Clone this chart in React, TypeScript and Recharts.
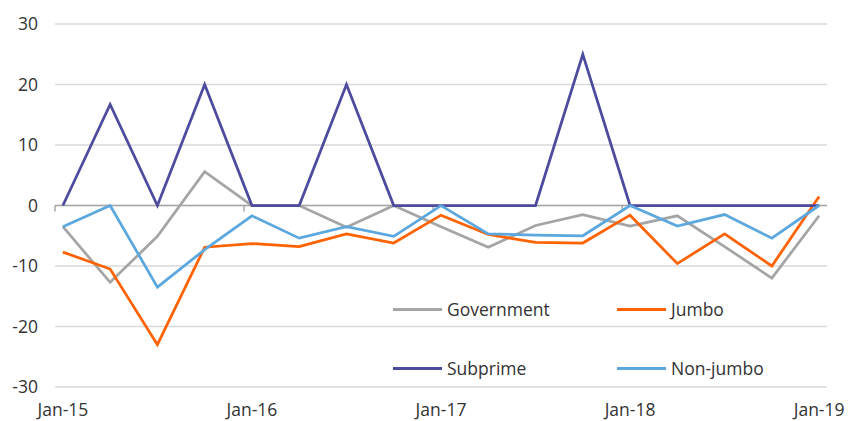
import React from 'react';
import { LineChart, Line, XAxis, YAxis, CartesianGrid, ReferenceLine, Legend } from 'recharts';

// Quarterly observations, Jan-15 .. Jan-19
const quarters = ['Jan-15','Apr-15','Jul-15','Oct-15','Jan-16','Apr-16','Jul-16','Oct-16','Jan-17','Apr-17','Jul-17','Oct-17','Jan-18','Apr-18','Jul-18','Oct-18','Jan-19'];
const government = [-3.5, -12.7, -5.1, 5.6, 0, 0, -3.6, 0, -3.5, -6.9, -3.3, -1.5, -3.4, -1.7, -6.8, -12.0, -1.7];
const jumbo = [-7.7, -10.5, -23.0, -6.9, -6.3, -6.8, -4.7, -6.2, -1.6, -4.8, -6.1, -6.2, -1.6, -9.6, -4.7, -10.0, 1.5];
const subprime = [0, 16.7, 0, 20, 0, 0, 20, 0, 0, 0, 0, 25, 0, 0, 0, 0, 0];
const nonJumbo = [-3.5, 0, -13.5, -7.3, -1.7, -5.4, -3.5, -5.1, 0, -4.7, -4.9, -5.0, 0, -3.4, -1.5, -5.4, 0];

const xTickLabels = ['Jan-15', 'Jan-16', 'Jan-17', 'Jan-18', 'Jan-19'];
const yTicks = [-30, -20, -10, 0, 10, 20, 30];

const COLORS = {
  government: '#A5A5A5',
  jumbo: '#FF6200',
  subprime: '#4D4B9E',
  nonJumbo: '#5CA8DE',
};

// month index (centre of month) for each quarterly point
const data = quarters.map((q, i) => ({
  month: i * 3 + 0.5,
  label: q,
  government: government[i],
  jumbo: jumbo[i],
  subprime: subprime[i],
  nonJumbo: nonJumbo[i],
}));

const xTicks = xTickLabels.map((_, i) => i * 12 + 0.5);
const boundaryTicks = xTickLabels.map((_, i) => i * 12);

const FONT = '"Open Sans", sans-serif';
const TEXT = '#333333';
const FS = 17.5;

const legendItems = [
  { name: 'Government', color: COLORS.government, left: 393, top: 309 },
  { name: 'Jumbo', color: COLORS.jumbo, left: 617, top: 309 },
  { name: 'Subprime', color: COLORS.subprime, left: 393, top: 368 },
  { name: 'Non-jumbo', color: COLORS.nonJumbo, left: 617, top: 368 },
];

const LegendContent = () => (
  <div style={{ position: 'relative', width: 0, height: 0 }}>
    {legendItems.map((it) => (
      <div
        key={it.name}
        style={{
          position: 'absolute',
          left: it.left,
          top: it.top - 12,
          height: 24,
          display: 'flex',
          alignItems: 'center',
          whiteSpace: 'nowrap',
          fontFamily: FONT,
          fontSize: FS,
          color: TEXT,
        }}
      >
        <span style={{ display: 'inline-block', width: 49, height: 3, background: it.color, marginRight: 5 }} />
        <span>{it.name}</span>
      </div>
    ))}
  </div>
);

export default function App() {
  return (
    <div style={{ position: 'absolute', left: 0, top: 0, width: 848, height: 421, background: '#fff' }}>
      <LineChart
        width={848}
        height={421}
        data={data}
        margin={{ top: 24, right: 21, bottom: 4, left: 0 }}
      >
        <CartesianGrid horizontal vertical={false} stroke="#D9D9D9" strokeWidth={1.5} />
        <XAxis
          dataKey="month"
          type="number"
          domain={[0, 49]}
          ticks={xTicks}
          tickFormatter={(v: number) => xTickLabels[Math.round((v - 0.5) / 12)]}
          axisLine={false}
          tickLine={false}
          tickMargin={11}
          height={30}
          tick={{ fill: TEXT, fontSize: FS, fontFamily: FONT }}
          interval={0}
        />
        <YAxis
          type="number"
          domain={[-30, 30]}
          ticks={yTicks}
          width={55}
          axisLine={false}
          tickLine={false}
          tickMargin={11}
          tick={{ fill: TEXT, fontSize: FS, fontFamily: FONT }}
        />
        <ReferenceLine y={0} stroke="#A6A6A6" strokeWidth={1.5} />
        {boundaryTicks.map((m) => (
          <ReferenceLine
            key={m}
            segment={[{ x: m, y: 0 }, { x: m, y: -1 }]}
            stroke="#A6A6A6"
            strokeWidth={1.5}
          />
        ))}
        <Legend content={<LegendContent />} wrapperStyle={{ left: 0, top: 0, width: 0, height: 0 }} />
        <Line dataKey="government" name="Government" stroke={COLORS.government} strokeWidth={2.75} dot={false} isAnimationActive={false} />
        <Line dataKey="jumbo" name="Jumbo" stroke={COLORS.jumbo} strokeWidth={2.75} dot={false} isAnimationActive={false} />
        <Line dataKey="subprime" name="Subprime" stroke={COLORS.subprime} strokeWidth={2.75} dot={false} isAnimationActive={false} />
        <Line dataKey="nonJumbo" name="Non-jumbo" stroke={COLORS.nonJumbo} strokeWidth={2.75} dot={false} isAnimationActive={false} />
      </LineChart>
    </div>
  );
}
